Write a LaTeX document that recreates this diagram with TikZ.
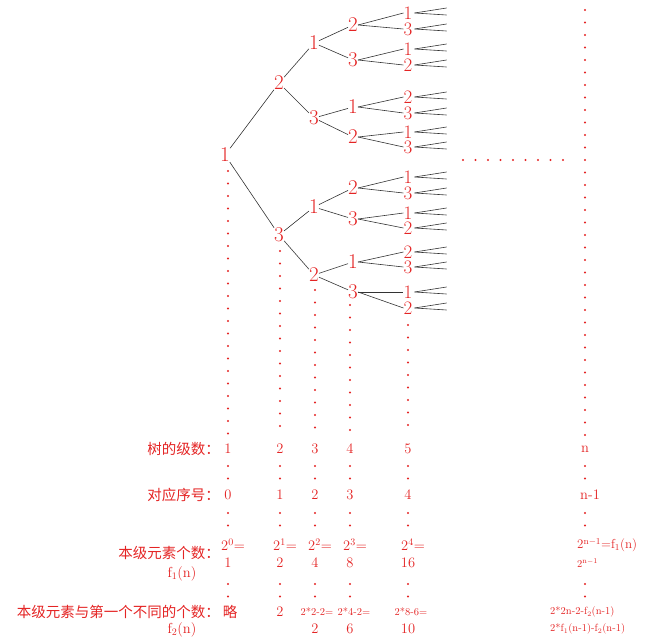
\documentclass[tikz,border=0pt]{standalone}
\usepackage{fontspec}
\newfontfamily\cjk{Noto Sans CJK SC}
\definecolor{tred}{RGB}{228,36,36}
\tikzset{
  num/.style={text=tred,font=\fontsize{21}{21}\selectfont,inner sep=0pt},
  leaf/.style={num,font=\fontsize{19}{19}\selectfont,text height=12pt,text depth=0pt},
  val/.style={text=tred,font=\fontsize{14.5}{14.5}\selectfont,inner sep=0pt},
  sml/.style={text=tred,font=\fontsize{10.5}{11}\selectfont,inner sep=0pt,anchor=west},
  lab/.style={text=tred,font=\cjk\fontsize{14.5}{14.5}\selectfont,inner sep=0pt,anchor=east},
  edge/.style={black!80,line width=0.6pt},
  reddots/.style={tred,line width=2.2pt,line cap=round,dash pattern=on 0pt off 12.5pt}
}
\begin{document}
\begin{tikzpicture}[x=1pt,y=-1pt]
    \path[use as bounding box] (0,0) rectangle (651,640);
    % Tree.
    \node[num] (r) at (225,155) {1};
    \node[num] (a) at (279,83) {2};
    \node[num] (b) at (279,235) {3};
    \node[num] (a1) at (314,43) {1};
    \node[num] (a3) at (314,118) {3};
    \node[num] (b1) at (314,207) {1};
    \node[num] (b2) at (314,275) {2};
    \foreach \s/\t in {r/a,r/b,a/a1,a/a3,b/b1,b/b2}
      \draw[edge] (\s) -- (\t);
    \foreach \n/\p/\y/\d in {a12/a1/25/2, a13/a1/60/3, a31/a3/107/1, a32/a3/137/2,
                             b12/b1/188/2, b13/b1/219/3, b21/b2/262/1, b23/b2/292/3}{
      \node[num] (\n) at (353,\y) {\d};
      \draw[edge] (\p) -- (\n);
    }
    % Leaves.
    \foreach \p/\y/\d [count=\i] in {a12/13/1, a12/29/3, a13/49/1, a13/65/2,
        a31/97/2, a31/113/3, a32/132/1, a32/147/3,
        b12/177/1, b12/193/3, b13/213/1, b13/228/2,
        b21/252/2, b21/267/3, b23/292/1, b23/308/2}{
      \node[leaf] (l\i) at (408,\y) {\d};
      \draw[edge] (\p.east) -- (l\i.west);
      \draw[edge] (l\i.east) ++(2,0) coordinate (f\i) -- ++(32,-5);
      \draw[edge] (f\i) -- ++(32,2);
    }
    % Dotted columns.
    \draw[reddots] (228,171) -- (228,436);
    \draw[reddots] (280,251) -- (280,436);
    \draw[reddots] (315,290) -- (315,436);
    \draw[reddots] (350,305) -- (350,436);
    \draw[reddots] (408,325) -- (408,436);
    \draw[reddots] (585,10) -- (585,435);
    \draw[reddots] (463,160) -- (575,160);
    \foreach \x in {228,280,315,350,408,585}
      \foreach \a/\b in {466/479,513/526,584/597}
        \draw[reddots] (\x,\a) -- (\x,\b);
    % Row labels.
    \node[lab] (t1) at (220,449) {树的级数：};
    \node[lab] (t2) at (220,495) {对应序号：};
    \node[lab] (t3) at (220,553) {本级元素个数：};
    \node[val] (t3b) at (182,574) {f$_1$(n)};
    \node[lab] (t4) at (220,612) {本级元素与第一个不同的个数：};
    \node[val,font=\cjk\fontsize{14.5}{14.5}\selectfont] (t4a) at (230,612) {略};
    \node[val] (t4b) at (182,630) {f$_2$(n)};
    % Values.
    \foreach \x/\u/\v/\e/\w in {228/1/0/0/1, 280/2/1/1/2, 315/3/2/2/4, 350/4/3/3/8, 408/5/4/4/16}{
      \node[val] at (\x,449) {\u};
      \node[val] at (\x,495) {\v};
      \node[val] at (\x+5,545) {2$^{\e}$=};
      \node[val] at (\x,563) {\w};
    }
    \node[val] (c2) at (280,612) {2};
    \node[val,font=\fontsize{10.5}{10.5}\selectfont] (c3) at (317,612) {2*2-2=};
    \node[val,font=\fontsize{10.5}{10.5}\selectfont] (c4) at (354,612) {2*4-2=};
    \node[val,font=\fontsize{10.5}{10.5}\selectfont] (c5) at (411,612) {2*8-6=};
    \node[val] (d3) at (315,629) {2};
    \node[val] (d4) at (350,629) {6};
    \node[val] (d5) at (408,629) {10};
    % Last column.
    \node[val] (n1) at (585,449) {n};
    \node[val,anchor=west] (n2) at (580,495) {n-1};
    \node[val,anchor=west,font=\fontsize{13}{13}\selectfont] (n3) at (577,545) {2$^{\mathrm{n-1}}$=f$_1$(n)};
    \node[sml] (n4) at (577,563) {2$^{\mathrm{n-1}}$};
    \node[sml] (n5) at (550,612) {2*2n-2-f$_2$(n-1)};
    \node[sml] (n6) at (550,629) {2*f$_1$(n-1)-f$_2$(n-1)};
\end{tikzpicture}
\end{document}
